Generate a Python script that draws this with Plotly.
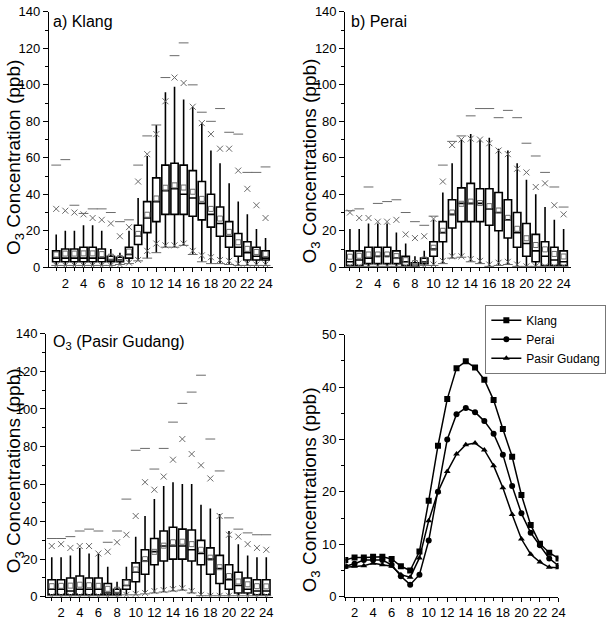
import plotly.graph_objects as go

# ---- data -------------------------------------------------------------
hours = list(range(1, 25))

# hourly mean O3 (ppb)
klang_mean = [7.0, 7.5, 7.5, 7.6, 7.6, 7.2, 5.8, 5.0, 8.6, 18.3, 28.8, 37.7,
              43.6, 44.9, 43.7, 41.4, 37.5, 32.0, 26.7, 19.4, 13.7, 10.1, 8.4, 7.3]
perai_mean = [5.8, 6.3, 7.0, 7.0, 7.0, 6.1, 3.9, 2.3, 4.2, 10.7, 20.0, 30.0,
              34.8, 36.0, 35.2, 33.5, 31.1, 27.1, 21.1, 15.9, 12.2, 9.8, 7.3, 5.9]
pasir_mean = [5.6, 5.8, 5.9, 6.4, 6.1, 5.8, 4.2, 3.7, 7.4, 14.5, 20.0, 23.9,
              27.2, 29.0, 29.3, 28.0, 25.0, 20.8, 15.7, 11.0, 8.1, 6.6, 5.6, 5.5]

# Klang box statistics
klang_q1 = [3, 3, 3, 3, 3, 3, 3, 3, 5, 12.5, 19, 25, 29, 29, 29, 28, 26, 22, 17, 11, 6, 4, 4, 4]
klang_med = [5, 5, 5, 5, 5, 5, 4, 4, 7, 17, 27, 36, 42, 43, 40, 38, 35, 29, 24, 17, 11, 8, 6, 5]
klang_q3 = [9, 10, 10, 11, 11, 10, 6, 5.5, 11, 23, 36, 49, 56, 57, 56, 53, 47, 40, 33, 25, 18.5, 14, 11, 9]
klang_lo = [1, 1, 1, 1, 1, 1, 1, 1.5, 2, 3.5, 5, 8, 11, 11, 12, 7, 3, 2, 2, 1.5, 1, 1, 1, 1]
klang_hi = [18, 20, 20, 23, 23, 20, 10, 8, 20, 38, 61, 78, 96, 99, 92, 88, 79, 64, 57, 46, 36, 29, 21, 16]
klang_p1 = [1, 1, 1, 1, 1, 1, 1, 1.5, 2.5, 4, 9, 13, 12, 12, 13, 9, 6.5, 5.5, 4, 3.5, 2, 2, 1.5, 1.5]
klang_p99 = [32, 31, 30, 29, 27, 26, 24, 17, 22, 47, 62, 73, 91, 104, 101, 88, 79, 73, 65, 65, 53, 43, 34, 27]
klang_max = [56, 59, 34, 29.5, 32, 32, 30, 25, 26, 56, 72, 78, 104, 116, 123, 100, 85, 80, 87, 74, 73, 52, 52, 55]

# Perai box statistics
perai_q1 = [1, 1, 2, 2, 2, 2, 1, 0.5, 2, 6, 14, 21.5, 25, 25, 25, 23, 20, 16, 11, 6, 3, 1, 1, 1]
perai_med = [3, 4, 5, 6, 6, 5, 3, 1, 3, 10, 19, 29, 35, 35, 35, 32, 30, 26, 19, 13, 9, 6, 4, 3]
perai_q3 = [9, 9, 11, 11, 11, 9, 6, 2.5, 5, 14, 25, 37, 43.5, 46, 43, 43, 41, 37, 30, 24, 18, 14, 11, 9]
perai_lo = [0.5, 0.5, 0.5, 0.5, 0.5, 0.5, 0.5, 0.3, 1, 1, 2, 5, 5.5, 3, 2, 0.5, 1, 1.5, 0.5, 0.5, 0.5, 0.5, 0.5, 0.5]
perai_hi = [21, 21, 24, 24, 24, 19, 13, 6, 9, 26, 41, 57, 70, 73, 70, 71, 65, 64, 57, 48, 40, 33, 26, 21]
perai_p1 = [0.5, 0.5, 0.5, 0.5, 0.5, 0.5, 0.5, 0.5, 1, 1.5, 3.5, 6, 6, 4.5, 3.5, 1.5, 2.5, 3, 1.5, 0.5, 0.5, 0.5, 0.5, 0.5]
perai_p99 = [30, 27, 27, 25, 25, 26, 18, 16, 17, 26.5, 47, 67, 70, 70.5, 70, 68, 64, 62, 54, 52, 44, 46, 34, 29]
perai_max = [31, 32, 44, 35, 36, 37, 30, 25, 23, 28, 56, 69, 72, 83, 87, 87, 82, 86, 82, 68, 61, 52, 44, 33]

# Pasir Gudang box statistics
pasir_q1 = [1, 1, 1, 1, 1, 1, 1, 1, 4, 8, 12, 17, 19, 20, 20, 19, 17, 12, 7, 4, 2, 2, 1, 1]
pasir_med = [4, 4, 3, 4, 4, 4, 2, 2, 6, 13, 19, 24, 27, 27, 27, 25, 23, 20, 15, 9, 6, 4, 3, 3]
pasir_q3 = [9, 9, 10, 11, 10, 10, 7, 4, 9, 18, 25, 31, 35, 37, 36, 35.5, 30, 26, 22, 17, 13, 10, 9, 9]
pasir_lo = [0.5, 0.5, 0.5, 0.5, 0.5, 0.5, 0.5, 0.5, 1, 1, 1.5, 2, 2.5, 3, 3.5, 2, 0.5, 0.5, 0.5, 0.5, 0.5, 0.5, 0.5, 0.5]
pasir_hi = [21, 21, 22, 26, 23, 23, 16, 8, 16, 32, 43, 52, 59, 61, 60, 60, 49, 47, 44, 35, 28, 22, 21, 21]
pasir_p1 = [0.5, 0.5, 0.5, 0.5, 0.5, 0.5, 0.5, 0.5, 1, 1.5, 2, 3, 3.5, 4, 4.5, 3, 1, 0.5, 0.5, 0.5, 0.5, 0.5, 0.5, 0.5]
pasir_p99 = [27, 28, 26, 27, 27, 23, 24, 29, 33, 43, 61, 57, 64, 73, 84, 76, 70, 63, 43, 33, 32, 28, 26, 25]
pasir_max = [31, 31, 32, 35, 36, 35, 29, 35, 52, 78, 79, 68, 79, 93, 103, 109, 118, 84, 67, 42, 36, 34, 33, 33]

FONT = "Liberation Sans, Arial, sans-serif"
GREY = "#6a6a6a"

W, H = 608, 621


def fx(px):
    return px / W


def fy(py):
    return 1 - py / H


fig = go.Figure()


def add_box_panel(n, q1, med, q3, lo, hi, p1, p99, vmax, mean):
    xa = "x" if n == 1 else f"x{n}"
    ya = "y" if n == 1 else f"y{n}"
    fig.add_trace(go.Box(
        x=hours, q1=q1, median=med, q3=q3, lowerfence=lo, upperfence=hi,
        width=0.8, whiskerwidth=0, fillcolor="white",
        line=dict(color="black", width=1.6), boxpoints=False,
        xaxis=xa, yaxis=ya, showlegend=False, hoverinfo="skip"))
    # 1% / 99% crosses
    fig.add_trace(go.Scatter(
        x=hours + hours, y=p1 + p99, mode="markers",
        marker=dict(symbol="x-thin-open", size=6, color=GREY, line=dict(width=1)),
        xaxis=xa, yaxis=ya, showlegend=False, hoverinfo="skip"))
    # min / max dashes
    fig.add_trace(go.Scatter(
        x=hours + hours, y=lo + vmax, mode="markers",
        marker=dict(symbol="line-ew-open", size=7, color=GREY, line=dict(width=1)),
        xaxis=xa, yaxis=ya, showlegend=False, hoverinfo="skip"))
    # mean squares
    fig.add_trace(go.Scatter(
        x=hours, y=mean, mode="markers",
        marker=dict(symbol="square-open", size=5, color=GREY, line=dict(width=1)),
        xaxis=xa, yaxis=ya, showlegend=False, hoverinfo="skip"))


add_box_panel(1, klang_q1, klang_med, klang_q3, klang_lo, klang_hi,
              klang_p1, klang_p99, klang_max, klang_mean)
add_box_panel(2, perai_q1, perai_med, perai_q3, perai_lo, perai_hi,
              perai_p1, perai_p99, perai_max, perai_mean)
add_box_panel(3, pasir_q1, pasir_med, pasir_q3, pasir_lo, pasir_hi,
              pasir_p1, pasir_p99, pasir_max, pasir_mean)

# diurnal mean lines
for name, vals, sym in [("Klang", klang_mean, "square"),
                        ("Perai", perai_mean, "circle"),
                        ("Pasir Gudang", pasir_mean, "triangle-up")]:
    fig.add_trace(go.Scatter(
        x=hours, y=vals, mode="lines+markers", name=name,
        line=dict(color="black", width=1.5),
        marker=dict(symbol=sym, size=6, color="black"),
        xaxis="x4", yaxis="y4"))

tickfont = dict(family=FONT, size=13, color="black")
xcommon = dict(
    showline=True, linecolor="black", linewidth=1.2, ticks="outside",
    ticklen=4, tickwidth=1.2, tickcolor="black", tickvals=list(range(2, 25, 2)),
    minor=dict(ticks="outside", ticklen=3, dtick=1, tick0=0, tickcolor="black"),
    showgrid=False, zeroline=False, tickfont=tickfont, fixedrange=True)
ycommon = dict(
    showline=True, linecolor="black", linewidth=1.2, ticks="outside",
    ticklen=5, tickwidth=1.2, tickcolor="black",
    showgrid=False, zeroline=False, tickfont=tickfont, fixedrange=True)

fig.update_layout(
    width=W, height=H,
    margin=dict(l=0, r=0, t=0, b=0),
    paper_bgcolor="white", plot_bgcolor="white",
    font=dict(family=FONT, color="black"),
    xaxis=dict(xcommon, domain=[fx(49.5), fx(276)], range=[0.2, 24.8], anchor="y"),
    yaxis=dict(ycommon, domain=[fy(266.7), fy(5)], range=[0, 140], dtick=20,
               minor=dict(ticks="outside", ticklen=3, dtick=10, tickcolor="black"),
               anchor="x"),
    xaxis2=dict(xcommon, domain=[fx(349.3), fx(577.7)], range=[0.5, 24.8], anchor="y2"),
    yaxis2=dict(ycommon, domain=[fy(266.7), fy(5)], range=[0, 140], dtick=20,
                minor=dict(ticks="outside", ticklen=3, dtick=10, tickcolor="black"),
                anchor="x2"),
    xaxis3=dict(xcommon, domain=[fx(46.7), fx(276)], range=[0.4, 24.7], anchor="y3"),
    yaxis3=dict(ycommon, domain=[fy(604.3), fy(335)], range=[0, 140], dtick=20,
                minor=dict(ticks="outside", ticklen=3, dtick=10, tickcolor="black"),
                anchor="x3"),
    xaxis4=dict(xcommon, domain=[fx(349.3), fx(565)], range=[1, 24], anchor="y4"),
    yaxis4=dict(ycommon, domain=[fy(604.3), fy(335.7)], range=[0, 50], dtick=10,
                minor=dict(ticks="outside", ticklen=3, dtick=5, tickcolor="black"),
                anchor="x4"),
    showlegend=True,
    legend=dict(x=fx(491), y=fy(305), xanchor="left", yanchor="top",
                bgcolor="white", bordercolor="#777777", borderwidth=1,
                font=dict(family=FONT, size=12, color="black"),
                tracegroupgap=0, itemwidth=30),
)

title_font = dict(family=FONT, size=19, color="black")
for text, x, y in [("O<sub>3</sub> Concentration (ppb)", 15, 154),
                   ("O<sub>3</sub> Concentrations (ppb)", 315, 158),
                   ("O<sub>3</sub> Concentrations (ppb)", 15, 475),
                   ("O<sub>3</sub> Concentrations (ppb)", 315, 495)]:
    fig.add_annotation(text=text, x=fx(x), y=fy(y), xref="paper", yref="paper",
                       xanchor="center", yanchor="middle", textangle=-90,
                       showarrow=False, font=title_font)

label_font = dict(family=FONT, size=16, color="black")
for text, x, y in [("a) Klang", 52, 15), ("b) Perai", 353, 15),
                   ("O<sub>3</sub> (Pasir Gudang)", 52, 344)]:
    fig.add_annotation(text=text, x=fx(x), y=fy(y), xref="paper", yref="paper",
                       xanchor="left", yanchor="middle", showarrow=False, font=label_font)

# the browser's default 8px body margin would push the figure off the page
fig.write_html("out.html", config={"displayModeBar": False},
               post_script="document.body.style.margin = '0';")
